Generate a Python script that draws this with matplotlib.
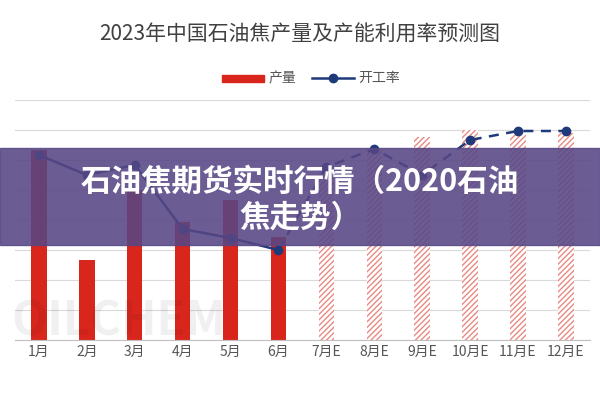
import matplotlib
matplotlib.use("Agg")
import matplotlib.pyplot as plt
from matplotlib.patches import Rectangle

plt.rcParams['font.family'] = ['Noto Sans CJK SC', 'DejaVu Sans']

months = ['1月','2月','3月','4月','5月','6月','7月E','8月E','9月E','10月E','11月E','12月E']
output = [190, 80, 150, 118, 140, 103, 175, 190, 203, 210, 205, 207]
rate = [185, 165, 175, 111, 102, 90, 173, 191, 165, 200, 209, 209]
n_actual = 6

fig = plt.figure(figsize=(6, 4), dpi=100)
ax = fig.add_axes([0.025, 0.15, 0.958, 0.6])
x = list(range(len(months)))
red = '#d9261c'
ax.bar(x[:n_actual], output[:n_actual], width=0.32, color=red, zorder=2)
ax.bar(x[n_actual:], output[n_actual:], width=0.32, color='white', edgecolor='#e88a84',
       hatch='//////', linewidth=0, zorder=2)
navy = '#1f3a7a'
ax.plot(x[:n_actual], rate[:n_actual], color=navy, marker='o', ms=6, lw=1.8, zorder=3)
ax.plot(x[n_actual-1:], rate[n_actual-1:], color=navy, marker='o', ms=6, lw=1.8,
        ls=(0, (4, 3)), zorder=3, markevery=list(range(1, 7)))
ax.set_xlim(-0.5, len(months) - 0.5)
ax.set_ylim(0, 240)
ax.set_yticks(range(0, 241, 30))
ax.set_yticklabels([])
ax.tick_params(axis='y', length=0)
ax.tick_params(axis='x', length=0, labelsize=10, colors='#555555')
ax.set_xticks(x)
ax.set_xticklabels(months)
ax.grid(axis='y', color='#d9d9d9', lw=0.8, zorder=0)
for s in ['top', 'right', 'left']:
    ax.spines[s].set_visible(False)
ax.spines['bottom'].set_color('#bfbfbf')

fig.text(0.5, 0.912, '2023年中国石油焦产量及产能利用率预测图', ha='center', va='center',
         fontsize=15, color='#404040')
fig.add_artist(Rectangle((0.37, 0.795), 0.07, 0.018, transform=fig.transFigure, color=red))
fig.text(0.447, 0.804, '产量', va='center', fontsize=10, color='#555555')
fig.add_artist(plt.Line2D([0.52, 0.59], [0.804, 0.804], transform=fig.transFigure, color=navy, lw=1.8))
fig.add_artist(plt.Line2D([0.555], [0.804], transform=fig.transFigure, color=navy, marker='o', ms=6))
fig.text(0.597, 0.804, '开工率', va='center', fontsize=10, color='#555555')

fig.text(0.02, 0.16, 'OILCHEM', fontsize=34, color='#000000', alpha=0.06, fontweight='bold')

fig.add_artist(Rectangle((0, 0.3875), 1, 0.2425, transform=fig.transFigure,
                         color='#574785', alpha=0.88, zorder=10))
fig.text(0.5, 0.545, '石油焦期货实时行情（2020石油', ha='center', va='center', fontsize=22,
         color='white', fontweight='bold', zorder=11)
fig.text(0.5, 0.455, '焦走势）', ha='center', va='center', fontsize=22,
         color='white', fontweight='bold', zorder=11)

fig.savefig('out.png', dpi=100)
